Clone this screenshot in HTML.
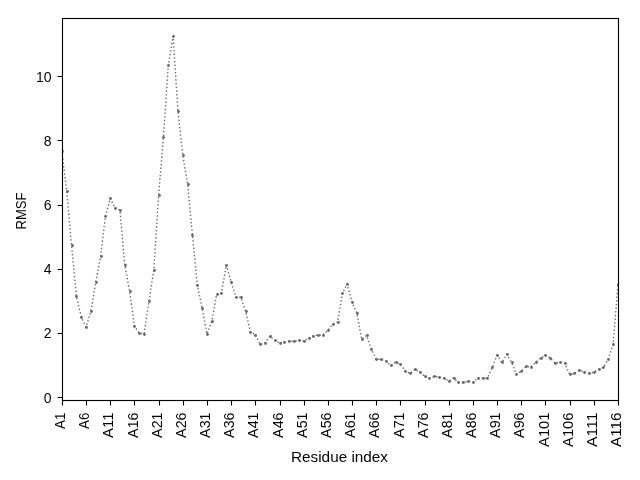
<!DOCTYPE html><html><head><meta charset="utf-8"><style>html,body{margin:0;padding:0;background:#fff;width:640px;height:480px;overflow:hidden}svg{display:block}</style></head><body><svg width="640" height="480" viewBox="0 0 640 480"><rect width="640" height="480" fill="#fff"/><defs><clipPath id="c"><rect x="61.9" y="18.0" width="556.1" height="381.6"/></clipPath></defs><g clip-path="url(#c)"><polyline points="61.90,151.41 66.74,191.31 71.57,245.37 76.41,296.25 81.24,317.14 86.08,327.09 90.91,311.33 95.75,282.06 100.59,256.35 105.42,216.41 110.26,198.40 115.09,208.36 119.93,210.00 124.76,265.00 129.60,291.37 134.43,326.13 139.27,333.22 144.11,334.00 148.94,301.38 153.78,270.15 158.61,195.16 163.45,137.25 168.28,65.48 173.12,36.17 177.96,111.19 182.79,155.26 187.63,184.25 192.46,235.38 197.30,285.00 202.13,308.12 206.97,334.00 211.81,321.32 216.64,294.29 221.48,293.00 226.31,265.00 231.15,282.00 235.98,297.21 240.82,297.21 245.65,311.33 250.49,332.00 255.33,334.51 260.16,344.49 265.00,343.00 269.83,336.15 274.67,340.32 279.50,343.00 284.34,342.24 289.18,341.28 294.01,341.28 298.85,340.32 303.68,341.28 308.52,338.07 313.35,335.82 318.19,335.15 323.03,334.83 327.86,330.34 332.70,324.20 337.53,322.28 342.37,293.32 347.20,284.00 352.04,302.00 356.87,313.26 361.71,339.36 366.55,335.47 371.38,349.31 376.22,359.29 381.05,359.29 385.89,361.22 390.72,365.42 395.56,362.18 400.40,364.10 405.23,371.20 410.07,373.45 414.90,369.27 419.74,372.16 424.57,376.37 429.41,378.29 434.25,376.37 439.08,377.33 443.92,378.00 448.75,381.18 453.59,378.00 458.42,382.47 463.26,382.47 468.09,381.18 472.93,382.47 477.77,378.00 482.60,378.00 487.44,378.00 492.27,367.35 497.11,355.41 501.94,362.50 506.78,354.44 511.62,362.50 516.45,374.41 521.29,371.20 526.12,366.38 530.96,367.00 535.79,362.18 540.63,358.01 545.47,355.08 550.30,358.00 555.14,363.46 559.97,362.18 564.81,363.46 569.64,374.41 574.48,373.45 579.31,370.24 584.15,372.16 588.99,373.45 593.82,372.16 598.66,369.27 603.49,367.35 608.33,359.00 613.16,344.17 618.00,284.30" fill="none" stroke="#696969" stroke-width="1.389" stroke-dasharray="1.389 2.292"/><g fill="#696969" stroke="#696969" stroke-width="0"><circle cx="62.5" cy="151.5" r="1.39"/><circle cx="67.5" cy="191.5" r="1.39"/><circle cx="72.5" cy="245.5" r="1.39"/><circle cx="76.5" cy="296.5" r="1.39"/><circle cx="81.5" cy="317.5" r="1.39"/><circle cx="86.5" cy="327.5" r="1.39"/><circle cx="91.5" cy="311.5" r="1.39"/><circle cx="96.5" cy="282.5" r="1.39"/><circle cx="101.5" cy="256.5" r="1.39"/><circle cx="105.5" cy="216.5" r="1.39"/><circle cx="110.5" cy="198.5" r="1.39"/><circle cx="115.5" cy="208.5" r="1.39"/><circle cx="120.5" cy="210.5" r="1.39"/><circle cx="125.5" cy="265.5" r="1.39"/><circle cx="130.5" cy="291.5" r="1.39"/><circle cx="134.5" cy="326.5" r="1.39"/><circle cx="139.5" cy="333.5" r="1.39"/><circle cx="144.5" cy="334.5" r="1.39"/><circle cx="149.5" cy="301.5" r="1.39"/><circle cx="154.5" cy="270.5" r="1.39"/><circle cx="159.5" cy="195.5" r="1.39"/><circle cx="163.5" cy="137.5" r="1.39"/><circle cx="168.5" cy="65.5" r="1.39"/><circle cx="173.5" cy="36.5" r="1.39"/><circle cx="178.5" cy="111.5" r="1.39"/><circle cx="183.5" cy="155.5" r="1.39"/><circle cx="188.5" cy="184.5" r="1.39"/><circle cx="192.5" cy="235.5" r="1.39"/><circle cx="197.5" cy="285.5" r="1.39"/><circle cx="202.5" cy="308.5" r="1.39"/><circle cx="207.5" cy="334.5" r="1.39"/><circle cx="212.5" cy="321.5" r="1.39"/><circle cx="217.5" cy="294.5" r="1.39"/><circle cx="221.5" cy="293.5" r="1.39"/><circle cx="226.5" cy="265.5" r="1.39"/><circle cx="231.5" cy="282.5" r="1.39"/><circle cx="236.5" cy="297.5" r="1.39"/><circle cx="241.5" cy="297.5" r="1.39"/><circle cx="246.5" cy="311.5" r="1.39"/><circle cx="250.5" cy="332.5" r="1.39"/><circle cx="255.5" cy="335.5" r="1.39"/><circle cx="260.5" cy="344.5" r="1.39"/><circle cx="265.5" cy="343.5" r="1.39"/><circle cx="270.5" cy="336.5" r="1.39"/><circle cx="275.5" cy="340.5" r="1.39"/><circle cx="280.5" cy="343.5" r="1.39"/><circle cx="284.5" cy="342.5" r="1.39"/><circle cx="289.5" cy="341.5" r="1.39"/><circle cx="294.5" cy="341.5" r="1.39"/><circle cx="299.5" cy="340.5" r="1.39"/><circle cx="304.5" cy="341.5" r="1.39"/><circle cx="309.5" cy="338.5" r="1.39"/><circle cx="313.5" cy="336.5" r="1.39"/><circle cx="318.5" cy="335.5" r="1.39"/><circle cx="323.5" cy="335.5" r="1.39"/><circle cx="328.5" cy="330.5" r="1.39"/><circle cx="333.5" cy="324.5" r="1.39"/><circle cx="338.5" cy="322.5" r="1.39"/><circle cx="342.5" cy="293.5" r="1.39"/><circle cx="347.5" cy="284.5" r="1.39"/><circle cx="352.5" cy="302.5" r="1.39"/><circle cx="357.5" cy="313.5" r="1.39"/><circle cx="362.5" cy="339.5" r="1.39"/><circle cx="367.5" cy="335.5" r="1.39"/><circle cx="371.5" cy="349.5" r="1.39"/><circle cx="376.5" cy="359.5" r="1.39"/><circle cx="381.5" cy="359.5" r="1.39"/><circle cx="386.5" cy="361.5" r="1.39"/><circle cx="391.5" cy="365.5" r="1.39"/><circle cx="396.5" cy="362.5" r="1.39"/><circle cx="400.5" cy="364.5" r="1.39"/><circle cx="405.5" cy="371.5" r="1.39"/><circle cx="410.5" cy="373.5" r="1.39"/><circle cx="415.5" cy="369.5" r="1.39"/><circle cx="420.5" cy="372.5" r="1.39"/><circle cx="425.5" cy="376.5" r="1.39"/><circle cx="429.5" cy="378.5" r="1.39"/><circle cx="434.5" cy="376.5" r="1.39"/><circle cx="439.5" cy="377.5" r="1.39"/><circle cx="444.5" cy="378.5" r="1.39"/><circle cx="449.5" cy="381.5" r="1.39"/><circle cx="454.5" cy="378.5" r="1.39"/><circle cx="458.5" cy="382.5" r="1.39"/><circle cx="463.5" cy="382.5" r="1.39"/><circle cx="468.5" cy="381.5" r="1.39"/><circle cx="473.5" cy="382.5" r="1.39"/><circle cx="478.5" cy="378.5" r="1.39"/><circle cx="483.5" cy="378.5" r="1.39"/><circle cx="487.5" cy="378.5" r="1.39"/><circle cx="492.5" cy="367.5" r="1.39"/><circle cx="497.5" cy="355.5" r="1.39"/><circle cx="502.5" cy="362.5" r="1.39"/><circle cx="507.5" cy="354.5" r="1.39"/><circle cx="512.5" cy="362.5" r="1.39"/><circle cx="516.5" cy="374.5" r="1.39"/><circle cx="521.5" cy="371.5" r="1.39"/><circle cx="526.5" cy="366.5" r="1.39"/><circle cx="531.5" cy="367.5" r="1.39"/><circle cx="536.5" cy="362.5" r="1.39"/><circle cx="541.5" cy="358.5" r="1.39"/><circle cx="545.5" cy="355.5" r="1.39"/><circle cx="550.5" cy="358.5" r="1.39"/><circle cx="555.5" cy="363.5" r="1.39"/><circle cx="560.5" cy="362.5" r="1.39"/><circle cx="565.5" cy="363.5" r="1.39"/><circle cx="570.5" cy="374.5" r="1.39"/><circle cx="574.5" cy="373.5" r="1.39"/><circle cx="579.5" cy="370.5" r="1.39"/><circle cx="584.5" cy="372.5" r="1.39"/><circle cx="589.5" cy="373.5" r="1.39"/><circle cx="594.5" cy="372.5" r="1.39"/><circle cx="599.5" cy="369.5" r="1.39"/><circle cx="603.5" cy="367.5" r="1.39"/><circle cx="608.5" cy="359.5" r="1.39"/><circle cx="613.5" cy="344.5" r="1.39"/><circle cx="618.5" cy="284.5" r="1.39"/></g></g><rect x="62.5" y="18.5" width="556" height="382" fill="none" stroke="#000" stroke-width="1.11"/><g stroke="#000" stroke-width="1.11"><line x1="57.5" y1="397.5" x2="62.5" y2="397.5"/><line x1="57.5" y1="333.5" x2="62.5" y2="333.5"/><line x1="57.5" y1="269.5" x2="62.5" y2="269.5"/><line x1="57.5" y1="205.5" x2="62.5" y2="205.5"/><line x1="57.5" y1="140.5" x2="62.5" y2="140.5"/><line x1="57.5" y1="76.5" x2="62.5" y2="76.5"/><line x1="62.5" y1="400.5" x2="62.5" y2="405.5"/><line x1="86.5" y1="400.5" x2="86.5" y2="405.5"/><line x1="110.5" y1="400.5" x2="110.5" y2="405.5"/><line x1="134.5" y1="400.5" x2="134.5" y2="405.5"/><line x1="159.5" y1="400.5" x2="159.5" y2="405.5"/><line x1="183.5" y1="400.5" x2="183.5" y2="405.5"/><line x1="207.5" y1="400.5" x2="207.5" y2="405.5"/><line x1="231.5" y1="400.5" x2="231.5" y2="405.5"/><line x1="255.5" y1="400.5" x2="255.5" y2="405.5"/><line x1="280.5" y1="400.5" x2="280.5" y2="405.5"/><line x1="304.5" y1="400.5" x2="304.5" y2="405.5"/><line x1="328.5" y1="400.5" x2="328.5" y2="405.5"/><line x1="352.5" y1="400.5" x2="352.5" y2="405.5"/><line x1="376.5" y1="400.5" x2="376.5" y2="405.5"/><line x1="400.5" y1="400.5" x2="400.5" y2="405.5"/><line x1="425.5" y1="400.5" x2="425.5" y2="405.5"/><line x1="449.5" y1="400.5" x2="449.5" y2="405.5"/><line x1="473.5" y1="400.5" x2="473.5" y2="405.5"/><line x1="497.5" y1="400.5" x2="497.5" y2="405.5"/><line x1="521.5" y1="400.5" x2="521.5" y2="405.5"/><line x1="545.5" y1="400.5" x2="545.5" y2="405.5"/><line x1="570.5" y1="400.5" x2="570.5" y2="405.5"/><line x1="594.5" y1="400.5" x2="594.5" y2="405.5"/><line x1="618.5" y1="400.5" x2="618.5" y2="405.5"/></g><g font-family="Liberation Sans, sans-serif" font-size="14.1" fill="#000" opacity="0.99"><text x="51.5" y="403.00" text-anchor="end" textLength="7.80" lengthAdjust="spacingAndGlyphs">0</text><text x="51.5" y="338.00" text-anchor="end" textLength="7.80" lengthAdjust="spacingAndGlyphs">2</text><text x="51.5" y="274.00" text-anchor="end" textLength="7.80" lengthAdjust="spacingAndGlyphs">4</text><text x="51.5" y="210.00" text-anchor="end" textLength="7.80" lengthAdjust="spacingAndGlyphs">6</text><text x="51.5" y="146.00" text-anchor="end" textLength="7.80" lengthAdjust="spacingAndGlyphs">8</text><text x="51.5" y="82.00" text-anchor="end" textLength="15.60" lengthAdjust="spacingAndGlyphs">10</text><text transform="translate(65.00,412.5) rotate(-90)" text-anchor="end" textLength="16.40" lengthAdjust="spacingAndGlyphs">A1</text><text transform="translate(89.00,412.5) rotate(-90)" text-anchor="end" textLength="16.40" lengthAdjust="spacingAndGlyphs">A6</text><text transform="translate(113.00,412.5) rotate(-90)" text-anchor="end" textLength="25.40" lengthAdjust="spacingAndGlyphs">A11</text><text transform="translate(138.00,412.5) rotate(-90)" text-anchor="end" textLength="25.40" lengthAdjust="spacingAndGlyphs">A16</text><text transform="translate(162.00,412.5) rotate(-90)" text-anchor="end" textLength="25.40" lengthAdjust="spacingAndGlyphs">A21</text><text transform="translate(186.00,412.5) rotate(-90)" text-anchor="end" textLength="25.40" lengthAdjust="spacingAndGlyphs">A26</text><text transform="translate(210.00,412.5) rotate(-90)" text-anchor="end" textLength="25.40" lengthAdjust="spacingAndGlyphs">A31</text><text transform="translate(234.00,412.5) rotate(-90)" text-anchor="end" textLength="25.40" lengthAdjust="spacingAndGlyphs">A36</text><text transform="translate(258.00,412.5) rotate(-90)" text-anchor="end" textLength="25.40" lengthAdjust="spacingAndGlyphs">A41</text><text transform="translate(283.00,412.5) rotate(-90)" text-anchor="end" textLength="25.40" lengthAdjust="spacingAndGlyphs">A46</text><text transform="translate(307.00,412.5) rotate(-90)" text-anchor="end" textLength="25.40" lengthAdjust="spacingAndGlyphs">A51</text><text transform="translate(331.00,412.5) rotate(-90)" text-anchor="end" textLength="25.40" lengthAdjust="spacingAndGlyphs">A56</text><text transform="translate(355.00,412.5) rotate(-90)" text-anchor="end" textLength="25.40" lengthAdjust="spacingAndGlyphs">A61</text><text transform="translate(379.00,412.5) rotate(-90)" text-anchor="end" textLength="25.40" lengthAdjust="spacingAndGlyphs">A66</text><text transform="translate(404.00,412.5) rotate(-90)" text-anchor="end" textLength="25.40" lengthAdjust="spacingAndGlyphs">A71</text><text transform="translate(428.00,412.5) rotate(-90)" text-anchor="end" textLength="25.40" lengthAdjust="spacingAndGlyphs">A76</text><text transform="translate(452.00,412.5) rotate(-90)" text-anchor="end" textLength="25.40" lengthAdjust="spacingAndGlyphs">A81</text><text transform="translate(476.00,412.5) rotate(-90)" text-anchor="end" textLength="25.40" lengthAdjust="spacingAndGlyphs">A86</text><text transform="translate(500.00,412.5) rotate(-90)" text-anchor="end" textLength="25.40" lengthAdjust="spacingAndGlyphs">A91</text><text transform="translate(524.00,412.5) rotate(-90)" text-anchor="end" textLength="25.40" lengthAdjust="spacingAndGlyphs">A96</text><text transform="translate(549.00,412.5) rotate(-90)" text-anchor="end" textLength="34.40" lengthAdjust="spacingAndGlyphs">A101</text><text transform="translate(573.00,412.5) rotate(-90)" text-anchor="end" textLength="34.40" lengthAdjust="spacingAndGlyphs">A106</text><text transform="translate(597.00,412.5) rotate(-90)" text-anchor="end" textLength="34.40" lengthAdjust="spacingAndGlyphs">A111</text><text transform="translate(621.00,412.5) rotate(-90)" text-anchor="end" textLength="34.40" lengthAdjust="spacingAndGlyphs">A116</text><text x="339.5" y="461.5" text-anchor="middle" textLength="97" lengthAdjust="spacingAndGlyphs">Residue index</text><text transform="translate(26.0,211.0) rotate(-90)" text-anchor="middle" textLength="37" lengthAdjust="spacingAndGlyphs">RMSF</text></g></svg></body></html>
